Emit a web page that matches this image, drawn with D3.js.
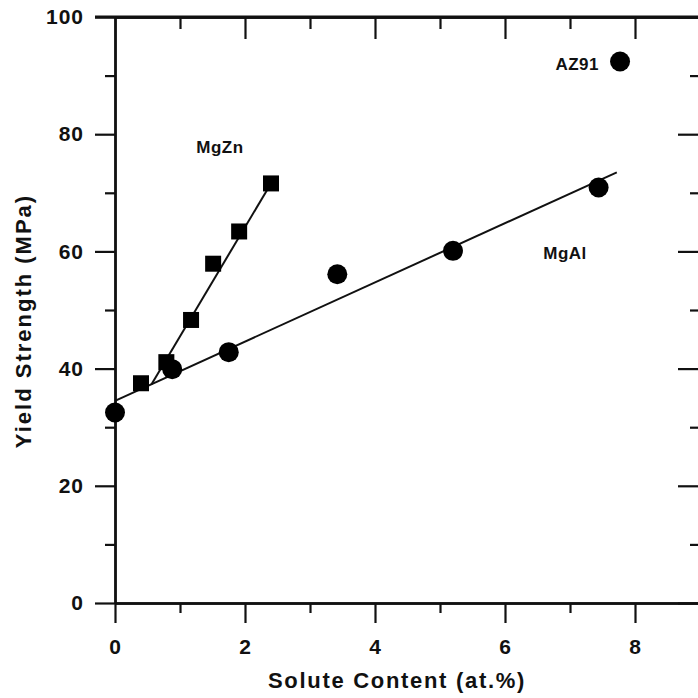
<!DOCTYPE html>
<html>
<head>
<meta charset="utf-8">
<script src="https://cdn.jsdelivr.net/npm/d3@7"></script>
<style>
  body { margin: 0; background: #fff; }
  text { font-family: "Liberation Sans", Arial, sans-serif; font-weight: bold; fill: #111; }
</style>
</head>
<body>
<svg id="chart" width="698" height="698"></svg>
<script>
// MgZn squares
const znX = [0.4, 0.79, 1.17, 1.51, 1.91, 2.4];
const znY = [37.5, 41.1, 48.3, 57.9, 63.4, 71.6];
// MgAl circles
const alX = [0, 0.88, 1.75, 3.42, 5.2, 7.44];
const alY = [32.5, 39.9, 42.8, 56.1, 60.1, 70.9];
// AZ91
const az91 = [7.77, 92.4];
// fit lines (end points)
const znFit = [[0.56, 37.3], [2.4, 71.6]];
const alFit = [[0, 34.5], [7.72, 73.5]];

const xMajor = [0, 2, 4, 6, 8];
const xMinor = [1, 3, 5, 7];
const yMajor = [0, 20, 40, 60, 80, 100];
const yMinor = [10, 30, 50, 70, 90];

const svg = d3.select("#chart");

let x = d3.scaleLinear().domain([0, 9]).range([115, 700]);
let y = d3.scaleLinear().domain([0, 100]).range([603, 17]);

// minor ticks first, then major ones with labels
function axisGroup(axis, transform) {
  let g = svg.append("g").attr("transform", transform).call(axis);
  g.selectAll("line").attr("stroke", "#111").attr("stroke-width", 2.2);
  g.select(".domain").attr("stroke", "#111").attr("stroke-width", 2.4);
  g.selectAll("text").style("font-size", "21px").style("letter-spacing", "1px").attr("fill", "#111");
  return g;
}

// bottom
axisGroup(d3.axisBottom(x).tickValues(xMinor).tickSize(10).tickSizeOuter(0).tickFormat(""), "translate(0,603)");
axisGroup(d3.axisBottom(x).tickValues(xMajor).tickSize(20).tickSizeOuter(0).tickPadding(16).tickFormat(d3.format("d")), "translate(0,603)");
// top, ticks inward
axisGroup(d3.axisBottom(x).tickValues(xMinor).tickSize(12).tickSizeOuter(0).tickFormat(""), "translate(0,17)");
axisGroup(d3.axisBottom(x).tickValues(xMajor.filter(d => d > 0)).tickSize(22).tickSizeOuter(0).tickFormat(""), "translate(0,17)");
// left
axisGroup(d3.axisLeft(y).tickValues(yMinor).tickSize(10).tickSizeOuter(0).tickFormat(""), "translate(115,0)");
axisGroup(d3.axisLeft(y).tickValues(yMajor).tickSize(20).tickSizeOuter(0).tickPadding(11).tickFormat(d3.format("d")), "translate(115,0)");
// right, ticks inward
axisGroup(d3.axisLeft(y).tickValues(yMinor).tickSize(10).tickSizeOuter(0).tickFormat(""), "translate(700,0)");
axisGroup(d3.axisLeft(y).tickValues(yMajor).tickSize(22).tickSizeOuter(0).tickFormat(""), "translate(700,0)");

// top line extends left to the 100 tick
svg.append("line")
  .attr("x1", 95).attr("x2", 700)
  .attr("y1", y(100)).attr("y2", y(100))
  .attr("stroke", "#111").attr("stroke-width", 3);

// fit lines
let line = d3.line().x(d => x(d[0])).y(d => y(d[1]));
svg.append("path").attr("d", line(alFit)).attr("fill", "none").attr("stroke", "#111").attr("stroke-width", 2);
svg.append("path").attr("d", line(znFit)).attr("fill", "none").attr("stroke", "#111").attr("stroke-width", 2);

// squares
svg.append("g")
  .selectAll("rect")
  .data(d3.zip(znX, znY))
  .enter()
  .append("rect")
  .attr("x", d => x(d[0]) - 8)
  .attr("y", d => y(d[1]) - 8)
  .attr("width", 16)
  .attr("height", 16)
  .attr("fill", "#000");

// circles
svg.append("g")
  .selectAll("circle")
  .data(d3.zip(alX, alY).concat([az91]))
  .enter()
  .append("circle")
  .attr("cx", d => x(d[0]))
  .attr("cy", d => y(d[1]))
  .attr("r", 10)
  .attr("fill", "#000");

// labels
svg.append("text").attr("x", 220).attr("y", 153).attr("text-anchor", "middle")
  .style("font-size", "17px").style("letter-spacing", "0.5px").text("MgZn");
svg.append("text").attr("x", 565).attr("y", 259).attr("text-anchor", "middle")
  .style("font-size", "17px").style("letter-spacing", "0.5px").text("MgAl");
svg.append("text").attr("x", 599).attr("y", 70).attr("text-anchor", "end")
  .style("font-size", "17px").style("letter-spacing", "0.5px").text("AZ91");

// axis titles
svg.append("text")
  .attr("x", 397).attr("y", 688)
  .attr("text-anchor", "middle")
  .style("font-size", "22px").style("letter-spacing", "1.7px")
  .text("Solute Content (at.%)");

svg.append("text")
  .attr("transform", "translate(31,321) rotate(-90)")
  .attr("text-anchor", "middle")
  .style("font-size", "22px").style("letter-spacing", "2px")
  .text("Yield Strength (MPa)");
</script>
</body>
</html>
